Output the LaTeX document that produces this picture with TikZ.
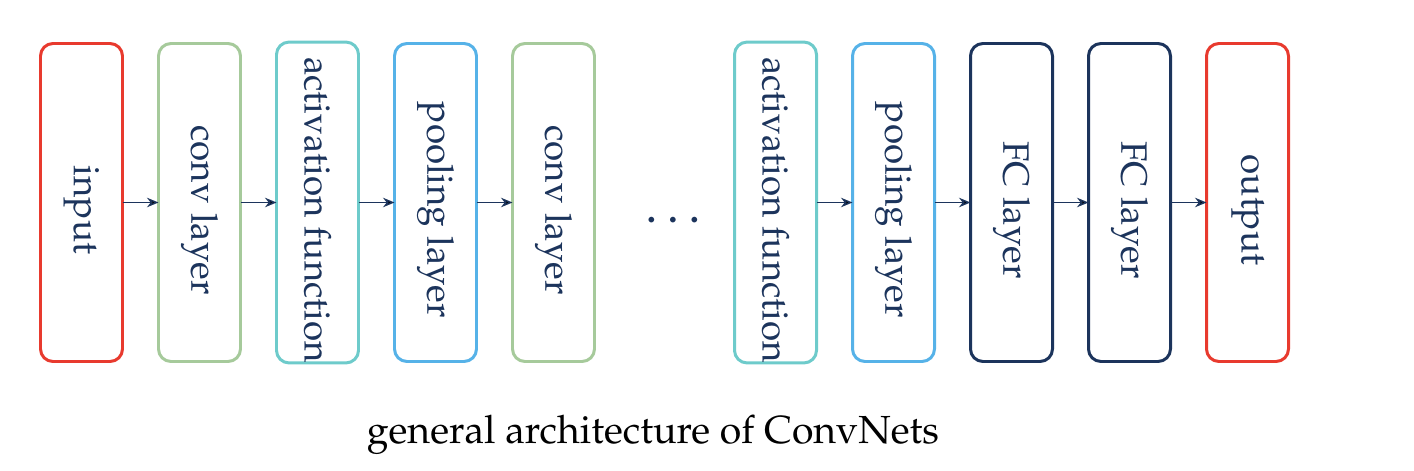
\documentclass[tikz,border=0pt]{standalone}
\usepackage[T1]{fontenc}
\usepackage{mathpazo}
\usepackage{tikz}
\usetikzlibrary{arrows.meta,positioning}
\definecolor{inred}{RGB}{232,58,46}
\definecolor{convgreen}{RGB}{166,202,155}
\definecolor{actteal}{RGB}{110,203,203}
\definecolor{poolblue}{RGB}{86,178,232}
\definecolor{fcnavy}{RGB}{28,52,92}
\newcommand{\vtext}[1]{\rotatebox{-90}{\hspace{0.3cm}#1}}

\begin{document}
\begin{tikzpicture}[->,>={Stealth[length=2.3mm,width=1.9mm]},node distance=0.72cm,
                    font=\fontsize{20.9}{24}\selectfont]
  \tikzstyle{layer}=[rectangle,rounded corners=0.25cm,line width=1.7pt,fill=white,outer sep=0pt,
                     text=fcnavy,minimum width=1.64cm,minimum height=6.36cm,inner sep=0pt]
  \tikzstyle{flow}=[draw=fcnavy,line width=0.8pt]

  \useasboundingbox (0,0) rectangle (28.28,9.4);

  \node[layer,draw=inred]     (In)  at (1.63,5.35)      {\vtext{input}};
  \node[layer,draw=convgreen] (C1)  [right=of In]        {\vtext{conv layer}};
  \node[layer,draw=actteal]   (A1)  [right=of C1]        {\vtext{activation function}};
  \node[layer,draw=poolblue]  (P1)  [right=of A1]        {\vtext{pooling layer}};
  \node[layer,draw=convgreen] (C2)  [right=of P1]        {\vtext{conv layer}};
  \node[layer,draw=actteal]   (A2)  [right=2.8cm of C2]  {\vtext{activation function}};
  \node[layer,draw=poolblue]  (P2)  [right=of A2]        {\vtext{pooling layer}};
  \node[layer,draw=fcnavy]    (F1)  [right=of P2]        {\vtext{FC layer}};
  \node[layer,draw=fcnavy]    (F2)  [right=of F1]        {\vtext{FC layer}};
  \node[layer,draw=inred]     (Out) [right=of F2]        {\vtext{output}};

  \node[text=fcnavy] (dots) at (13.46,5.0) {\textbf{.\,\,.\,\,.}};
  \node[font=\fontsize{22.3}{26}\selectfont] (cap) at (13.06,0.7) {general architecture of ConvNets};

  \path[flow]
(In) edge (C1)
(C1) edge (A1)
(A1) edge (P1)
(P1) edge (C2)
(A2) edge (P2)
(P2) edge (F1)
(F1) edge (F2)
(F2) edge (Out);
\end{tikzpicture}
\end{document}
